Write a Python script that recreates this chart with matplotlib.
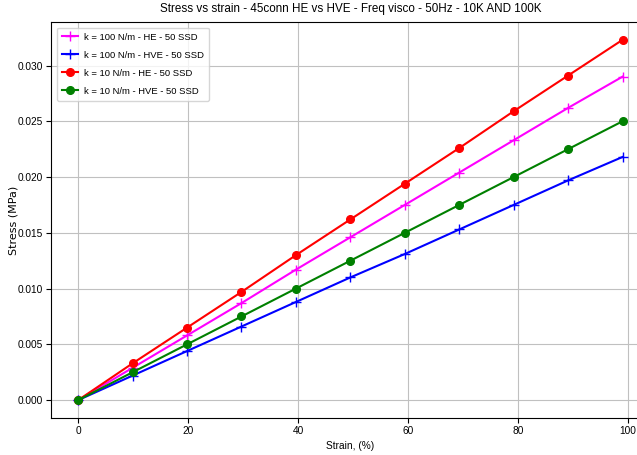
import matplotlib
matplotlib.use("Agg")
import matplotlib.pyplot as plt

FONT = "Liberation Sans"

strain = [0, 9.9, 19.8, 29.7, 39.6, 49.5, 59.4, 69.3, 79.2, 89.1, 99]
k100_he = [0, 0.0029, 0.0058, 0.0087, 0.0117, 0.0146, 0.0175, 0.0204, 0.0233, 0.0262, 0.0290]
k100_hve = [0, 0.0022, 0.0044, 0.0066, 0.0088, 0.0110, 0.0131, 0.0153, 0.0175, 0.0197, 0.0218]
k10_he = [0, 0.0033, 0.0065, 0.0097, 0.0130, 0.0162, 0.0194, 0.0226, 0.0259, 0.0291, 0.0323]
k10_hve = [0, 0.0025, 0.0050, 0.0075, 0.0100, 0.0125, 0.0150, 0.0175, 0.0200, 0.0225, 0.0250]

labels = ["k = 100 N/m - HE - 50 SSD", "k = 100 N/m - HVE - 50 SSD",
          "k = 10 N/m - HE - 50 SSD", "k = 10 N/m - HVE - 50 SSD"]
xticks = [0, 20, 40, 60, 80, 100]
yticks = [0.0, 0.005, 0.010, 0.015, 0.020, 0.025, 0.030]
yticklabels = ["0.000", "0.005", "0.010", "0.015", "0.020", "0.025", "0.030"]
title = "Stress vs strain - 45conn HE vs HVE - Freq visco - 50Hz - 10K AND 100K"

plt.rcParams["font.family"] = [FONT, "DejaVu Sans"]

fig = plt.figure(figsize=(6.37, 4.55), dpi=100)
ax = fig.add_axes([0.080, 0.081, 0.94, 0.871])

ax.plot(strain, k100_he, color="magenta", marker="+", markersize=6.5, lw=1.5, label=labels[0])
ax.plot(strain, k100_hve, color="blue", marker="+", markersize=6.5, lw=1.5, label=labels[1])
ax.plot(strain, k10_he, color="red", marker="o", markersize=5.5, lw=1.5, label=labels[2])
ax.plot(strain, k10_hve, color="green", marker="o", markersize=5.5, lw=1.5, label=labels[3])

ax.grid(True, color="#c0c0c0", lw=0.8)
ax.set_xticks(xticks)
ax.set_yticks(yticks)
ax.set_yticklabels(yticklabels)
ax.tick_params(labelsize=7.3, length=3.5, pad=2.5)

ax.set_title(title, fontsize=8.4, pad=7)
ax.set_xlabel("Strain, (%)", fontsize=7.3, labelpad=3)
ax.set_ylabel("Stress (MPa)", fontsize=8, family=["DejaVu Sans"])
ax.yaxis.set_label_coords(-0.055, 0.5)
ax.legend(loc="upper left", fontsize=6.8, labelspacing=0.95, handlelength=1.7,
          borderpad=0.55, borderaxespad=0.6, handletextpad=0.6)

fig.savefig("out.png", dpi=100)
